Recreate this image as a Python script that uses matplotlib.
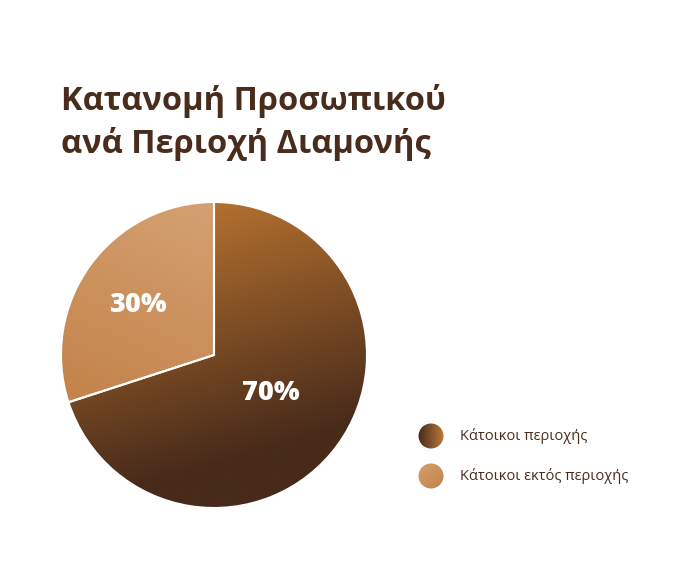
import matplotlib
matplotlib.use("Agg")
import matplotlib.pyplot as plt
import numpy as np
from matplotlib.colors import LinearSegmentedColormap
from matplotlib.patches import Circle

# data
labels = ["Κάτοικοι περιοχής", "Κάτοικοι εκτός περιοχής"]
values = [70, 30]
pct_labels = ["70%", "30%"]
title = "Κατανομή Προσωπικού\nανά Περιοχή Διαμονής"

text_color = "#4a2c1c"
font = ["Open Sans", "DejaVu Sans"]


def gradient_image(ax, extent, p0, p1, c0, c1, clip):
    """Linear gradient from p0 (colour c0) to p1 (colour c1), clipped to a patch."""
    x0, x1, y0, y1 = extent
    xs = np.linspace(x0, x1, 300)
    ys = np.linspace(y0, y1, 300)
    X, Y = np.meshgrid(xs, ys)
    d = np.array(p1) - np.array(p0)
    t = ((X - p0[0]) * d[0] + (Y - p0[1]) * d[1]) / (d @ d)
    t = np.clip(t, 0, 1)
    cmap = LinearSegmentedColormap.from_list("g", [c0, c1])
    im = ax.imshow(t, cmap=cmap, extent=extent, origin="lower",
                   vmin=0, vmax=1, interpolation="bilinear", zorder=1)
    im.set_clip_path(clip)
    return im


fig = plt.figure(figsize=(6.83, 5.80), dpi=100)

# pie axes, placed so that centre ~ (214, 355) px, radius ~153 px
W, H = 683, 580
cx, cy, r = 214, 355, 153
ax = fig.add_axes([(cx - r) / W, (H - cy - r) / H, 2 * r / W, 2 * r / H])
wedges, _ = ax.pie(values, startangle=90, counterclock=False,
                   wedgeprops=dict(facecolor="none", edgecolor="white", linewidth=1.5))
ax.set_xlim(-1, 1)
ax.set_ylim(-1, 1)
ax.set_aspect("equal")
ax.axis("off")

gradients = [
    ((0.0, 1.0), (0.45, -0.6), "#b3702f", "#472a1a"),
    ((-0.2, 1.0), (-0.8, -0.3), "#d39f70", "#c4844b"),
]
for w, (p0, p1, c0, c1) in zip(wedges, gradients):
    gradient_image(ax, (-1, 1, -1, 1), p0, p1, c0, c1, w)
    w.set_zorder(2)

ax.text(0.37, -0.25, pct_labels[0], color="white", fontsize=19.5,
        fontweight=800, ha="center", va="center", family=font, zorder=3)
ax.text(-0.50, 0.33, pct_labels[1], color="white", fontsize=19.5,
        fontweight=800, ha="center", va="center", family=font, zorder=3)

# overlay axes in pixel coordinates for title and legend
ov = fig.add_axes([0, 0, 1, 1])
ov.set_xlim(0, W)
ov.set_ylim(H, 0)
ov.axis("off")

for k, line in enumerate(title.split("\n")):
    ov.text(61, 110 + 43 * k, line, color=text_color, fontsize=23.5,
            fontweight="bold", ha="left", va="baseline", family=font)

legend_grads = [
    ((419, 436), (443, 436), "#4a2c1c", "#b9763a"),
    ((422, 465), (440, 488), "#d29c6c", "#c4844b"),
]
for i, (lab, (p0, p1, c0, c1)) in enumerate(zip(labels, legend_grads)):
    ly = 436 + 40 * i
    circ = Circle((431, ly), 12.5, facecolor="none", edgecolor="none")
    ov.add_patch(circ)
    gradient_image(ov, (418, 444, ly - 13, ly + 13), p0, p1, c0, c1, circ)
    ov.text(460, ly, lab, color=text_color, fontsize=10.5, ha="left",
            va="center", family=font)

fig.savefig("out.png", dpi=100)
